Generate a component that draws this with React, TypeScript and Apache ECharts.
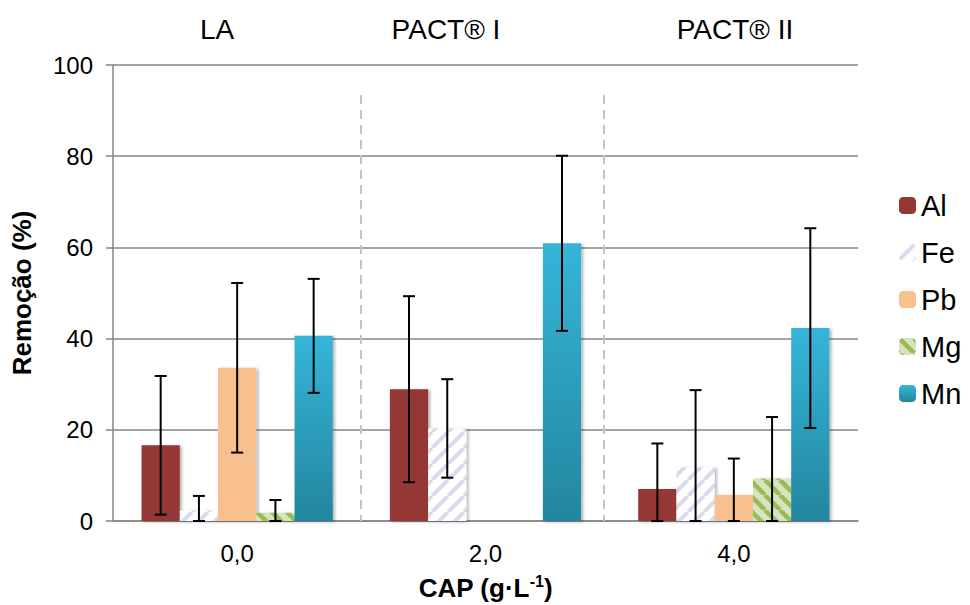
import React, { useEffect, useRef } from "react";
import * as echarts from "echarts";

const categories = ["0,0", "2,0", "4,0"];
const seriesNames = ["Al", "Fe", "Pb", "Mg", "Mn"];
const alValues = [16.6, 28.9, 7.0];
const alSd = [15.2, 20.4, 10.0];
const feValues = [2.3, 20.3, 11.8];
const feSd = [3.2, 10.8, 16.9];
const pbValues = [33.6, 0, 5.7];
const pbSd = [18.6, 0, 8.0];
const mgValues = [1.8, 0, 9.3];
const mgSd = [2.8, 0, 13.5];
const mnValues = [40.6, 60.9, 42.3];
const mnSd = [12.5, 19.2, 21.9];
const phaseLabels = ["LA", "PACT® I", "PACT® II"];
const yMin = 0;
const yMax = 100;
const yInterval = 20;

const FONT = "'Liberation Sans', Arial, sans-serif";
const CAT_GAP = 0.23;

function stripePattern(size: number, bg: string, fg: string, lw: number, up: boolean) {
  const cv = document.createElement("canvas");
  cv.width = size;
  cv.height = size;
  const ctx = cv.getContext("2d")!;
  ctx.fillStyle = bg;
  ctx.fillRect(0, 0, size, size);
  ctx.strokeStyle = fg;
  ctx.lineWidth = lw;
  for (const o of [-size, 0, size]) {
    ctx.beginPath();
    if (up) {
      ctx.moveTo(o, size);
      ctx.lineTo(o + size, 0);
    } else {
      ctx.moveTo(o, 0);
      ctx.lineTo(o + size, size);
    }
    ctx.stroke();
  }
  return { image: cv, repeat: "repeat", imageWidth: size, imageHeight: size } as any;
}

export default function App() {
  const ref = useRef<HTMLDivElement>(null);
  useEffect(() => {
    if (!ref.current) return;
    const chart = echarts.init(ref.current, undefined, { renderer: "svg" });
    const values = [alValues, feValues, pbValues, mgValues, mnValues];
    const sds = [alSd, feSd, pbSd, mgSd, mnSd];
    const shadow = {
      shadowBlur: 3,
      shadowColor: "rgba(0,0,0,0.3)",
      shadowOffsetX: 2,
      shadowOffsetY: 1,
    };
    const styles: any[] = [
      { color: "#953735", ...shadow },
      { color: stripePattern(16, "#FFFFFF", "#DDD8EB", 4, true), ...shadow },
      { color: "#F9C08F", ...shadow },
      { color: stripePattern(15, "#D7E4BD", "#9BBB59", 4.5, false), ...shadow },
      {
        color: new echarts.graphic.LinearGradient(0, 0, 0, 1, [
          { offset: 0, color: "#35B5D9" },
          { offset: 1, color: "#23869F" },
        ]),
        ...shadow,
      },
    ];
    const barSeries = seriesNames.map((name, i) => ({
      name,
      type: "bar",
      data: values[i],
      barGap: "0%",
      barCategoryGap: CAT_GAP * 100 + "%",
      itemStyle: styles[i],
      z: 2,
    }));
    const errData: number[][] = [];
    seriesNames.forEach((_, s) => {
      values[s].forEach((v, c) => {
        errData.push([c, Math.max(0, v - sds[s][c]), v + sds[s][c], s]);
      });
    });
    const n = seriesNames.length;
    const errSeries = {
      type: "custom",
      name: "err",
      data: errData,
      encode: { x: 0, y: [1, 2] },
      z: 5,
      renderItem: (params: any, api: any) => {
        const c = api.value(0);
        const lo = api.value(1);
        const hi = api.value(2);
        const s = api.value(3);
        if (hi - lo < 0.01) return null;
        const catW = api.size([1, 0])[0];
        const barW = (catW * (1 - CAT_GAP)) / n;
        const x = api.coord([c, 0])[0] + (s - (n - 1) / 2) * barW;
        const yTop = api.coord([c, hi])[1];
        const yBot = api.coord([c, lo])[1];
        const cap = 6;
        const st = { stroke: "#000", lineWidth: 2 };
        return {
          type: "group",
          children: [
            { type: "line", shape: { x1: x, y1: yTop, x2: x, y2: yBot }, style: st },
            { type: "line", shape: { x1: x - cap, y1: yTop, x2: x + cap, y2: yTop }, style: st },
            { type: "line", shape: { x1: x - cap, y1: yBot, x2: x + cap, y2: yBot }, style: st },
          ],
        };
      },
    };
    const centers = [217, 446, 735];
    chart.setOption({
      animation: false,
      backgroundColor: "#fff",
      textStyle: { fontFamily: FONT },
      grid: { left: 113, right: 112, top: 65, bottom: 84, containLabel: false, outerBoundsMode: "none" },
      legend: {
        data: seriesNames,
        orient: "vertical",
        left: 894,
        top: 186,
        itemWidth: 17,
        itemHeight: 17,
        itemGap: 18,
        textStyle: { fontSize: 29, color: "#000", fontFamily: FONT },
      },
      xAxis: {
        type: "category",
        data: categories,
        axisLine: { lineStyle: { color: "#868686", width: 1.5 } },
        axisTick: { show: false },
        axisLabel: { fontSize: 24, color: "#000", margin: 20, fontFamily: FONT },
        name: "CAP (g·L{sup|-1})",
        nameLocation: "middle",
        nameGap: 52,
        nameTextStyle: {
          fontSize: 26,
          fontWeight: "bold",
          color: "#000",
          fontFamily: FONT,
          lineHeight: 30,
          rich: {
            sup: { fontSize: 16, fontWeight: "bold", color: "#000", verticalAlign: "top", lineHeight: 16, fontFamily: FONT },
          },
        },
      },
      yAxis: {
        type: "value",
        min: yMin,
        max: yMax,
        interval: yInterval,
        axisLine: { show: true, lineStyle: { color: "#868686", width: 1.5 } },
        axisTick: { show: true, length: 7, lineStyle: { color: "#868686", width: 1.5 } },
        splitLine: { lineStyle: { color: "#868686", width: 1.5 } },
        axisLabel: { fontSize: 24, color: "#000", margin: 20, fontFamily: FONT },
        name: "Remoção (%)",
        nameLocation: "middle",
        nameGap: 78,
        nameTextStyle: { fontSize: 26, fontWeight: "bold", color: "#000", fontFamily: FONT },
      },
      graphic: [
        ...phaseLabels.map((t, i) => ({
          type: "text",
          x: centers[i],
          y: 29,
          style: {
            text: t,
            fontSize: 28,
            fontFamily: FONT,
            fill: "#000",
            textAlign: "center",
            textVerticalAlign: "middle",
          },
        })),
        ...[361, 604].map((x) => ({
          type: "line",
          shape: { x1: x, y1: 95, x2: x, y2: 521 },
          style: { stroke: "#C4C4C4", lineWidth: 2, lineDash: [9, 6] },
          z: 1,
        })),
      ],
      series: [...barSeries, errSeries],
    });
    return () => chart.dispose();
  }, []);
  return (
    <div
      ref={ref}
      style={{ position: "fixed", left: 0, top: 0, width: 970, height: 605, background: "#fff" }}
    />
  );
}
